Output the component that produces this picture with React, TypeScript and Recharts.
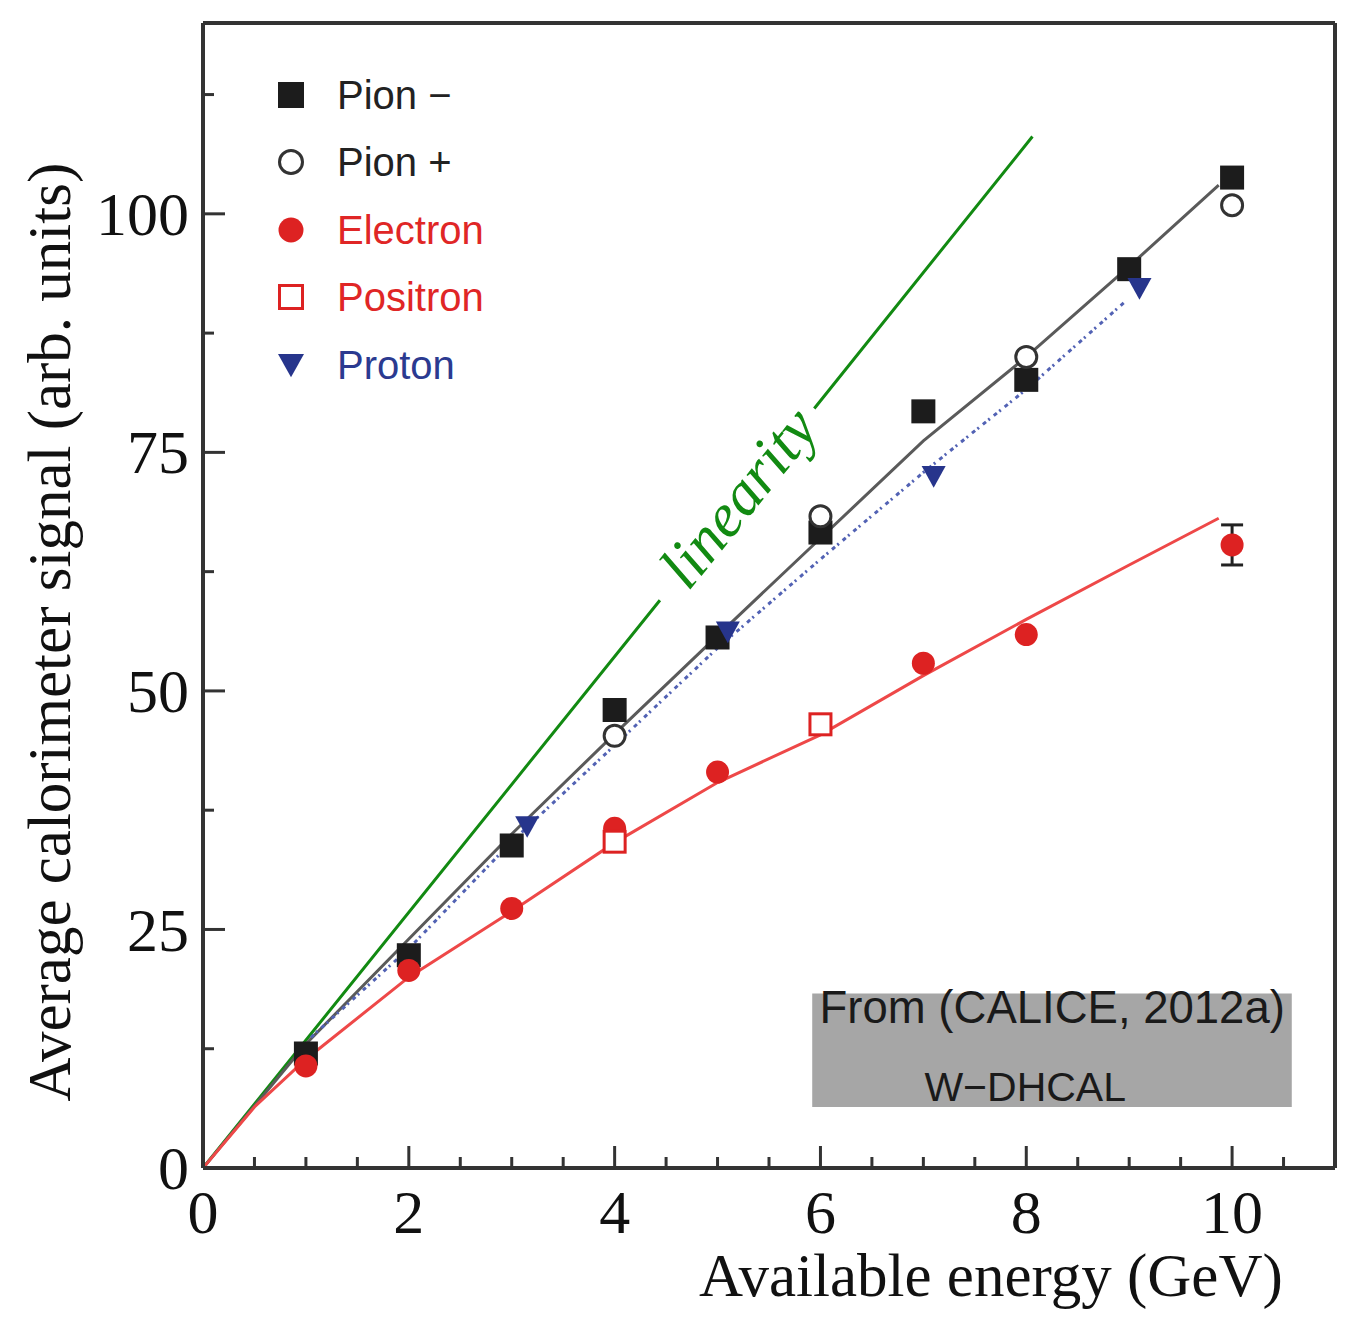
import React from 'react';
import {
  ComposedChart,
  Line,
  Scatter,
  XAxis,
  YAxis,
  ErrorBar,
  Legend,
  Label,
  ReferenceArea,
  ReferenceDot,
} from 'recharts';

// measured points (energy in GeV, mean signal in arb. units)
const pionMinusEnergy = [1, 2, 3, 4, 5, 6, 7, 8, 9, 10];
const pionMinusSignal = [12.0, 22.3, 33.8, 48.0, 55.6, 66.6, 79.3, 82.6, 94.2, 103.8];

const pionPlusEnergy = [4, 6, 8, 10];
const pionPlusSignal = [45.3, 68.3, 85.0, 100.9];

const electronEnergy = [1, 2, 3, 4, 5, 7, 8, 10];
const electronSignal = [10.7, 20.7, 27.2, 35.6, 41.5, 52.9, 55.9, 65.3];
const electronError = [0, 0, 0, 0, 0, 0, 0, 2.1];

const positronEnergy = [4, 6];
const positronSignal = [34.2, 46.5];

const protonEnergy = [3.15, 5.1, 7.1, 9.1];
const protonSignal = [35.8, 56.2, 72.5, 92.2];

// fitted curves
const pionFitEnergy = [0, 1, 2, 3, 4, 5, 6, 7, 8, 9, 9.87];
const pionFitSignal = [0, 13.0, 24.0, 35.0, 45.5, 55.8, 66.0, 76.2, 85.0, 94.5, 103.0];

const electronFitEnergy = [0, 0.5, 1, 2, 3, 4, 5, 6, 7, 8, 9, 9.87];
const electronFitSignal = [0, 6.4, 11.4, 20.0, 26.9, 34.1, 40.4, 45.4, 51.6, 57.5, 63.2, 68.1];

const protonFitEnergy = [1.05, 2, 3, 4, 5, 6, 7, 8, 8.95];
const protonFitSignal = [13.7, 23.0, 34.2, 44.3, 54.5, 63.8, 72.9, 81.6, 90.7];

// linearity line, broken where its label sits
const linearityEnergy = [0, 4.44, 5.2, 5.94, 8.06];
const linearitySignal = [0, 59.5, null, 79.6, 108.1];

// axes
const xTicks = [0, 0.5, 1, 1.5, 2, 2.5, 3, 3.5, 4, 4.5, 5, 5.5, 6, 6.5, 7, 7.5, 8, 8.5, 9, 9.5, 10, 10.5];
const xLabelTicks = [0, 2, 4, 6, 8, 10];
const yTicks = [0, 12.5, 25, 37.5, 50, 62.5, 75, 87.5, 100, 112.5];
const yLabelTicks = [0, 25, 50, 75, 100];

const legendKeys = ['pionMinus', 'pionPlus', 'electron', 'positron', 'proton'];
const legendLabels = ['Pion \u2212', 'Pion +', 'Electron', 'Positron', 'Proton'];

const SERIF = '"Liberation Serif", "Times New Roman", serif';
const SANS = '"Liberation Sans", Arial, sans-serif';
const FRAME = '#333333';

const styles: Record<string, { kind: string; color: string; text: string }> = {
  pionMinus: { kind: 'square', color: '#1c1c1c', text: '#222222' },
  pionPlus: { kind: 'openCircle', color: '#333333', text: '#222222' },
  electron: { kind: 'circle', color: '#dd2222', text: '#e02626' },
  positron: { kind: 'openSquare', color: '#dd2222', text: '#e02626' },
  proton: { kind: 'triangle', color: '#27358c', text: '#2b3a90' },
};

const pts = (xs: number[], ys: (number | null)[]) => xs.map((x, i) => ({ x, y: ys[i] }));

const Marker = ({ kind, color, cx, cy, s = 12 }: any) => {
  if (cx == null || cy == null) return <g />;
  switch (kind) {
    case 'square':
      return <rect x={cx - s} y={cy - s} width={2 * s} height={2 * s} fill={color} />;
    case 'openSquare':
      return (
        <rect x={cx - s + 1.5} y={cy - s + 1.5} width={2 * s - 3} height={2 * s - 3}
          fill="#fff" stroke={color} strokeWidth={3} />
      );
    case 'circle':
      return <circle cx={cx} cy={cy} r={s - 0.5} fill={color} />;
    case 'openCircle':
      return <circle cx={cx} cy={cy} r={s - 1.5} fill="#fff" stroke={color} strokeWidth={3} />;
    case 'triangle':
      return (
        <path d={`M${cx - s},${cy - s * 0.85} L${cx + s},${cy - s * 0.85} L${cx},${cy + s * 0.95} Z`}
          fill={color} />
      );
    default:
      return <g />;
  }
};

const shapeFor = (key: string) => (props: any) => (
  <Marker kind={styles[key].kind} color={styles[key].color} cx={props.cx} cy={props.cy} />
);

const XTick = ({ x, y, payload }: any) => {
  const major = xLabelTicks.includes(payload.value);
  return (
    <g>
      <line x1={x} x2={x} y1={y} y2={y - (major ? 22 : 11)} stroke={FRAME} strokeWidth={3} />
      {major && (
        <text x={x} y={y + 65} textAnchor="middle" fontFamily={SERIF} fontSize={62} fill="#111">
          {payload.value}
        </text>
      )}
    </g>
  );
};

const YTick = ({ x, y, payload }: any) => {
  const major = yLabelTicks.includes(payload.value);
  return (
    <g>
      <line x1={x} x2={x + (major ? 22 : 11)} y1={y} y2={y} stroke={FRAME} strokeWidth={3} />
      {major && (
        <text x={x - 14} y={y} dy="0.34em" textAnchor="end" fontFamily={SERIF} fontSize={62} fill="#111">
          {payload.value}
        </text>
      )}
    </g>
  );
};

const XTitle = ({ viewBox }: any) => (
  <text x={viewBox.x + viewBox.width * 0.696} y={viewBox.y + 128} textAnchor="middle"
    fontFamily={SERIF} fontSize={61} fill="#111">
    Available energy (GeV)
  </text>
);

const YTitle = ({ viewBox }: any) => {
  const cx = viewBox.x + viewBox.width - 133;
  const cy = viewBox.y + viewBox.height * 0.532;
  return (
    <text x={cx} y={cy} transform={`rotate(-90 ${cx} ${cy})`} textAnchor="middle"
      fontFamily={SERIF} fontSize={61} fill="#111">
      Average calorimeter signal (arb. units)
    </text>
  );
};

const LinearityLabel = ({ viewBox }: any) => {
  const cx = viewBox.x + viewBox.width / 2;
  const cy = viewBox.y + viewBox.height / 2;
  return (
    <text x={cx} y={cy} transform={`rotate(-51 ${cx} ${cy})`} textAnchor="middle"
      dominantBaseline="central" fontFamily={SERIF} fontStyle="italic" fontSize={62} fill="#128a12">
      linearity
    </text>
  );
};

const SourceLabel = ({ viewBox }: any) => (
  <g fontFamily={SANS} fill="#1a1a1a">
    <text x={viewBox.x + 240} y={viewBox.y + 30} textAnchor="middle" fontSize={45.5}>
      From (CALICE, 2012a)
    </text>
    <text x={viewBox.x + 213} y={viewBox.y + 108} textAnchor="middle" fontSize={41}>
      W{'\u2212'}DHCAL
    </text>
  </g>
);

const LegendBox = () => (
  <div style={{ fontFamily: SANS, fontSize: 40 }}>
    {legendKeys.map((key, i) => (
      <div key={key} style={{ display: 'flex', alignItems: 'center', height: 67.5 }}>
        <svg width={44} height={44} style={{ marginRight: 24 }}>
          <Marker kind={styles[key].kind} color={styles[key].color} cx={22} cy={22} s={13} />
        </svg>
        <span style={{ color: styles[key].text, lineHeight: 1 }}>{legendLabels[i]}</span>
      </div>
    ))}
  </div>
);

const electronPoints = electronEnergy.map((x, i) => ({ x, y: electronSignal[i], err: electronError[i] }));
const electronWithError = electronPoints.filter((p) => p.err > 0);

export default function App() {
  return (
    <div style={{ position: 'absolute', left: 0, top: 0, width: 1358, height: 1327, background: '#fff' }}>
      <ComposedChart width={1358} height={1327} margin={{ top: 22, right: 22, bottom: 158, left: 202 }}>
        <XAxis type="number" dataKey="x" domain={[0, 11]} ticks={xTicks} interval={0}
          tick={<XTick />} tickLine={false} tickSize={0} tickMargin={0} height={1}
          axisLine={{ stroke: FRAME, strokeWidth: 4 }} allowDataOverflow>
          <Label content={<XTitle />} />
        </XAxis>
        <YAxis type="number" dataKey="y" domain={[0, 120]} ticks={yTicks} interval={0}
          tick={<YTick />} tickLine={false} tickSize={0} tickMargin={0} width={1}
          axisLine={{ stroke: FRAME, strokeWidth: 4 }} allowDataOverflow>
          <Label content={<YTitle />} />
        </YAxis>
        <XAxis xAxisId="top" orientation="top" type="number" dataKey="x" domain={[0, 11]}
          tick={false} tickLine={false} height={1} axisLine={{ stroke: FRAME, strokeWidth: 4 }} />
        <YAxis yAxisId="right" orientation="right" type="number" dataKey="y" domain={[0, 120]}
          tick={false} tickLine={false} width={1} axisLine={{ stroke: FRAME, strokeWidth: 4 }} />

        <ReferenceArea x1={5.92} x2={10.58} y1={6.4} y2={18.3} fill="#a6a6a6" fillOpacity={1}
          stroke="none" label={<SourceLabel />} />

        <Line data={pts(linearityEnergy, linearitySignal)} dataKey="y" type="linear" stroke="#128a12"
          strokeWidth={3} dot={false} activeDot={false} isAnimationActive={false} />
        <Line data={pts(pionFitEnergy, pionFitSignal)} dataKey="y" type="linear" stroke="#5a5a5a"
          strokeWidth={3} dot={false} activeDot={false} isAnimationActive={false} />
        <Line data={pts(protonFitEnergy, protonFitSignal)} dataKey="y" type="linear" stroke="#5262b4"
          strokeWidth={3} strokeDasharray="4 3 2 5" dot={false} activeDot={false} isAnimationActive={false} />
        <Line data={pts(electronFitEnergy, electronFitSignal)} dataKey="y" type="linear" stroke="#ee4848"
          strokeWidth={3} dot={false} activeDot={false} isAnimationActive={false} />

        <ReferenceDot x={5.2} y={70.3} r={0} fill="none" stroke="none" label={<LinearityLabel />} />

        <Scatter data={electronWithError} dataKey="y" shape={() => <g />} isAnimationActive={false}>
          <ErrorBar dataKey="err" direction="y" width={11} stroke="#222" strokeWidth={3} isAnimationActive={false} />
        </Scatter>
        <Scatter data={pts(pionMinusEnergy, pionMinusSignal)} dataKey="y" shape={shapeFor('pionMinus')} isAnimationActive={false} />
        <Scatter data={pts(pionPlusEnergy, pionPlusSignal)} dataKey="y" shape={shapeFor('pionPlus')} isAnimationActive={false} />
        <Scatter data={electronPoints} dataKey="y" shape={shapeFor('electron')} isAnimationActive={false} />
        <Scatter data={pts(positronEnergy, positronSignal)} dataKey="y" shape={shapeFor('positron')} isAnimationActive={false} />
        <Scatter data={pts(protonEnergy, protonSignal)} dataKey="y" shape={shapeFor('proton')} isAnimationActive={false} />

        <Legend layout="vertical" align="center" verticalAlign="middle"
          wrapperStyle={{ left: 269, top: 61, width: 320, height: 340 }}
          content={() => <LegendBox />} />
      </ComposedChart>
    </div>
  );
}
